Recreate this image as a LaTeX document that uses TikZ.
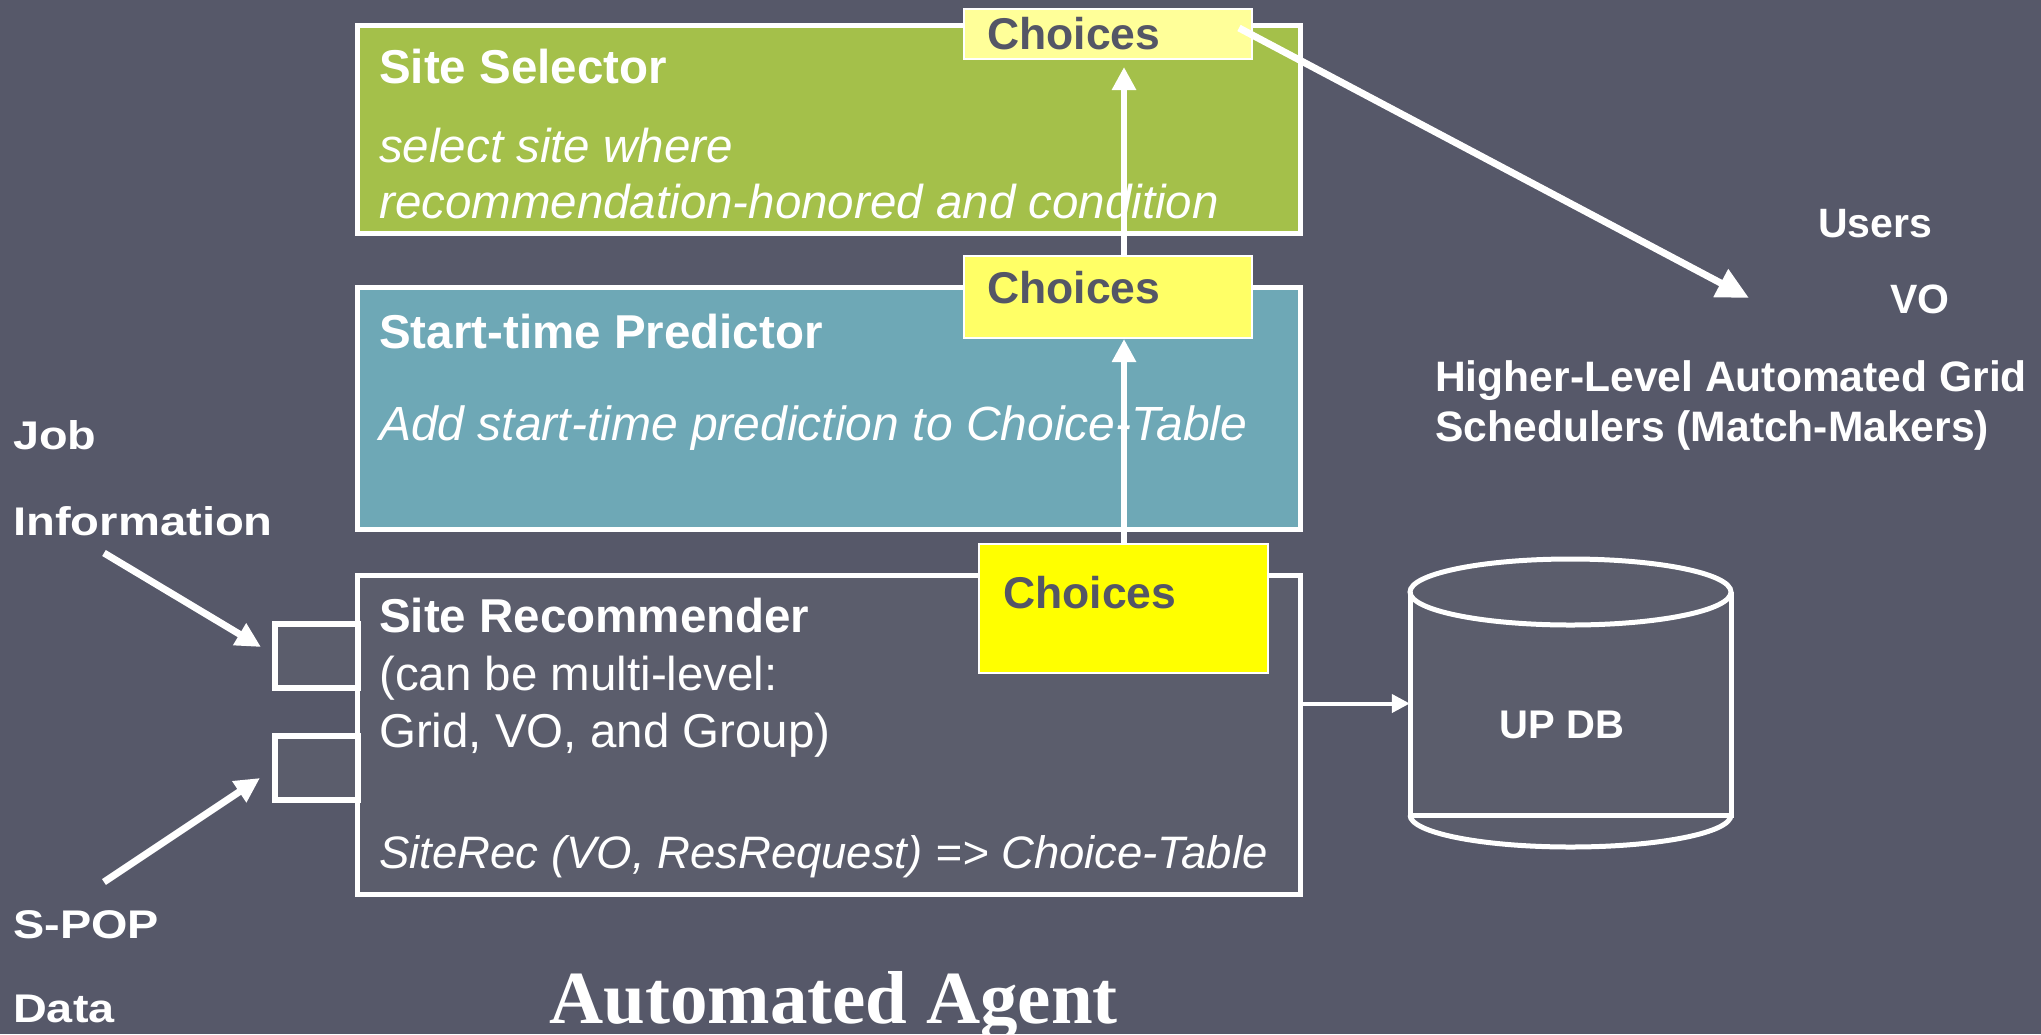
\documentclass[tikz,border=0pt]{standalone}
\usepackage{fontspec}
\setmainfont{Liberation Sans}
\newfontfamily\titlefont{Liberation Serif}
\usetikzlibrary{arrows.meta,calc}
\definecolor{bgcol}{HTML}{565869}
\definecolor{selgreen}{HTML}{A4C04A}
\definecolor{predteal}{HTML}{6EA8B6}
\definecolor{recfill}{HTML}{5B5D6C}
\definecolor{chA}{HTML}{FFFF99}
\definecolor{chB}{HTML}{FFFF66}
\definecolor{chC}{HTML}{FFFF00}
\definecolor{chtext}{HTML}{545666}
\newcommand{\myfs}[1]{\fontsize{#1}{#1}\selectfont}
\begin{document}
\begin{tikzpicture}[x=1pt,y=-1pt,
  mainbox/.style={draw=white,line width=5pt,inner sep=0,minimum width=943pt},
  chbox/.style={draw=white,line width=2pt,inner sep=0,minimum width=288pt},
  portbox/.style={draw=white,line width=6pt,inner sep=0,minimum width=83pt,minimum height=64pt},
  txt/.style={anchor=base west,inner sep=0,text=white},
  headtxt/.style={txt,font=\myfs{47.5}\bfseries},
  bodytxt/.style={txt,font=\myfs{47.5}},
  itxt/.style={txt,font=\myfs{47.5}\itshape},
  chtxt/.style={txt,text=chtext,font=\myfs{44.5}\bfseries},
  sidetxt/.style={txt,font=\myfs{41}\bfseries},
  lefttxt/.style={txt,font=\myfs{40}\bfseries},
  uparr/.style={draw=white,line width=6pt,-{Triangle[length=23pt,width=23pt]}},
  portarr/.style={draw=white,line width=7pt,-{Triangle[length=25pt,width=24pt]}},
  bigarr/.style={draw=white,line width=7pt,-{Triangle[length=32pt,width=30pt]}},
  dbarr/.style={draw=white,line width=4pt,-{Triangle[length=18pt,width=18pt]}},
  dbline/.style={draw=white,line width=5pt}
]
\path[fill=bgcol] (0,0) rectangle (2041,1034);
\useasboundingbox (0,0) rectangle (2041,1034);

% main boxes
\node[mainbox,fill=selgreen,minimum height=208pt] (sel) at (828.5,129) {};
\node[mainbox,fill=predteal,minimum height=242pt] (pred) at (828.5,408) {};
\node[mainbox,fill=recfill,minimum height=319pt] (rec) at (828.5,734.5) {};

% ports
\node[portbox,fill=recfill] (p1) at (316.5,656) {};
\node[portbox,fill=recfill] (p2) at (316.5,768) {};

% choices boxes
\node[chbox,fill=chA,minimum height=50pt] (c1) at (1108,34) {};
\node[chbox,fill=chB,minimum height=82pt] (c2) at (1108,297) {};
\node[chbox,fill=chC,minimum height=129pt,minimum width=289pt] (c3) at (1123.5,608.5) {};

% texts in boxes
\node[headtxt] (selT) at (379,83) {Site Selector};
\node[itxt] (selL1) at (379,162) {select site where};
\node[itxt] (selL2) at (379,218) {recommendation-honored and condition};
\node[headtxt] (predT) at (379,348) {Start-time Predictor};
\node[itxt,font=\myfs{48}\itshape] (predL1) at (379,440) {Add start-time prediction to Choice-Table};
\node[headtxt] (recT) at (379,632) {Site Recommender};
\node[bodytxt] (recL1) at (379,690) {(can be multi-level:};
\node[bodytxt] (recL2) at (379,747) {Grid, VO, and Group)};
\node[itxt,font=\myfs{45.5}\itshape] (recL3) at (379,868) {SiteRec (VO, ResRequest) => Choice-Table};

\node[chtxt] (c1T) at (987,49) {Choices};
\node[chtxt] (c2T) at (987,303) {Choices};
\node[chtxt] (c3T) at (1003,608) {Choices};

% right-hand labels
\node[sidetxt] (users) at (1818,237) {Users};
\node[sidetxt] (vo) at (1890,313) {VO};
\node[sidetxt,font=\myfs{42.6}\bfseries] (hl1) at (1435,391) {Higher-Level Automated Grid};
\node[sidetxt,font=\myfs{42.6}\bfseries] (hl2) at (1435,441) {Schedulers (Match-Makers)};

% left-hand labels
\node[lefttxt] (job) at (13,449) {\scalebox{1.17}[1]{Job}};
\node[lefttxt] (info) at (13,535) {\scalebox{1.18}[1]{Information}};
\node[lefttxt] (spop) at (13,938) {\scalebox{1.17}[1]{S-POP}};
\node[lefttxt] (data) at (13,1022) {\scalebox{1.17}[1]{Data}};

% title
\node[txt,font=\titlefont\myfs{75}\bfseries] (title) at (549,1023) {Automated Agent};

% cylinder (UP DB)
\node[inner sep=0,minimum width=321pt,minimum height=223pt] (db) at (1570.5,703.5) {};
\fill[recfill] (1410,592) -- (1410,815) .. controls (1410,832.7) and (1481.9,847) .. (1570.5,847)
  .. controls (1659.1,847) and (1731,832.7) .. (1731,815) -- (1731,592) -- cycle;
\fill[recfill] (1570.5,592) ellipse [x radius=160.5, y radius=33];
\draw[dbline] (1570.5,592) ellipse [x radius=160.5, y radius=33];
\draw[dbline] (1410,592) -- (1410,815) -- (1731,815) -- (1731,592);
\draw[dbline] (1410,815) .. controls (1410,832.7) and (1481.9,847) .. (1570.5,847)
  .. controls (1659.1,847) and (1731,832.7) .. (1731,815);
\node[txt,font=\myfs{40}\bfseries,anchor=base] (dbT) at (1562,738) {UP DB};

% connectors
\coordinate (ax) at (1124,0);
\draw[uparr] (ax |- c3.north) -- (ax |- c2.south);
\draw[uparr] (ax |- c2.north) -- ([yshift=-7pt]ax |- c1.south);
\coordinate (usertip) at (1749,298);
\draw[bigarr] ([xshift=-14pt,yshift=6pt]c1.east) -- (usertip);
\draw[dbarr] (rec.east |- db.west) -- (db.west);
\coordinate (infoS) at (104,553);
\coordinate (spopS) at (104,882);
\draw[portarr] (infoS) -- ([xshift=-11pt,yshift=9pt]p1.west);
\draw[portarr] (spopS) -- ([xshift=-12pt,yshift=-10pt]p2.west);
\end{tikzpicture}
\end{document}
